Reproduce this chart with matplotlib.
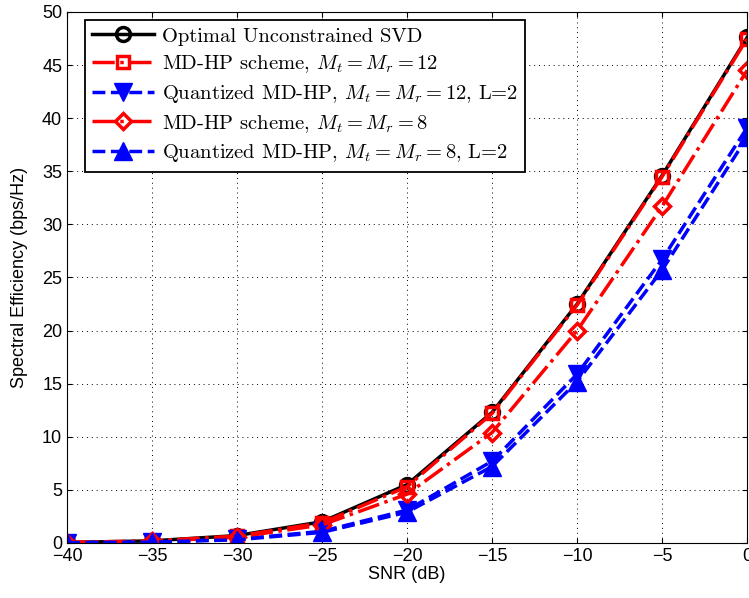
import numpy as np
from matplotlib import pyplot as plt

plt.rcParams["font.family"] = ["Liberation Sans", "DejaVu Sans"]
plt.rcParams["mathtext.fontset"] = "cm"

snr_db = [-40, -35, -30, -25, -20, -15, -10, -5, 0]

se_svd = [0.05, 0.2, 0.7, 2.0, 5.5, 12.3, 22.5, 34.6, 47.6]
se_mdhp_12 = [0.05, 0.2, 0.65, 1.9, 5.3, 12.2, 22.4, 34.5, 47.5]
se_quant_12 = [0.02, 0.1, 0.35, 1.1, 3.1, 7.7, 15.9, 26.7, 39.1]
se_mdhp_8 = [0.04, 0.15, 0.55, 1.7, 4.6, 10.4, 20.0, 31.7, 44.5]
se_quant_8 = [0.02, 0.08, 0.3, 1.0, 2.9, 7.2, 15.2, 25.7, 38.2]

labels = [
    "Optimal Unconstrained SVD",
    r"MD-HP scheme, $M_t = M_r = 12$",
    r"Quantized MD-HP, $M_t = M_r = 12$, L=2",
    r"MD-HP scheme, $M_t = M_r = 8$",
    r"Quantized MD-HP, $M_t = M_r = 8$, L=2",
]

fig = plt.figure(figsize=(7.49, 5.98), dpi=100)
ax = fig.add_axes([0.0895, 0.092, 0.908, 0.888])

ax.plot(snr_db, se_svd, color="k", lw=2.5, marker="o", ms=10, mfc="none",
        mew=2.5, label=labels[0])
ax.plot(snr_db, se_mdhp_12, color="r", lw=2.5, ls="-.", marker="s", ms=9,
        mfc="none", mew=2.5, label=labels[1])
ax.plot(snr_db, se_quant_12, color="b", lw=2.5, ls="--", marker="v", ms=13,
        label=labels[2])
ax.plot(snr_db, se_mdhp_8, color="r", lw=2.5, ls="-.", marker="D", ms=8,
        mfc="none", mew=2.5, label=labels[3])
ax.plot(snr_db, se_quant_8, color="b", lw=2.5, ls="--", marker="^", ms=13,
        label=labels[4])

ax.set_xlim(-40, 0)
ax.set_ylim(0, 50)
ax.set_xticks(np.arange(-40, 1, 5))
ax.set_yticks(np.arange(0, 51, 5))
ax.grid(True, ls=(0, (1, 4)), color="k", lw=0.7)
ax.tick_params(direction="in", labelsize=13, top=True, right=True)
ax.set_xlabel("SNR (dB)", fontsize=13, labelpad=1)
ax.set_ylabel("Spectral Efficiency (bps/Hz)", fontsize=13, labelpad=10)

leg = ax.legend(loc="upper left", bbox_to_anchor=(0.026, 0.985),
                borderaxespad=0, prop={"family": "cmr10", "size": 14.8},
                fancybox=False, edgecolor="k", framealpha=1,
                handlelength=3.0, handletextpad=0.4,
                labelspacing=0.38, borderpad=0.35)
leg.get_frame().set_linewidth(1.3)

fig.savefig("out.png", dpi=100)
